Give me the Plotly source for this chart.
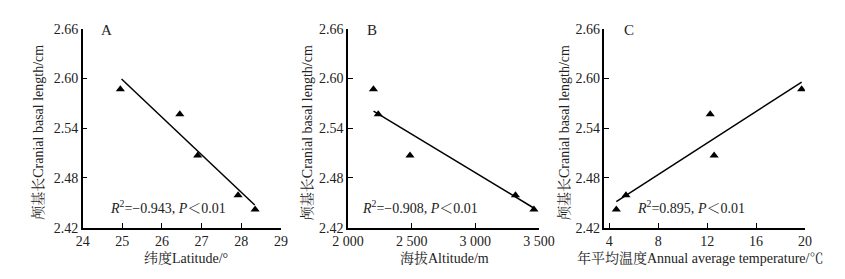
import plotly.graph_objects as go

# ---- data ----
latitude = [24.95, 26.45, 26.9, 27.92, 28.35]
altitude = [2200, 2238, 2487, 3315, 3460]
temperature = [19.73, 12.25, 12.57, 5.36, 4.57]
cranial_length = [2.587, 2.557, 2.507, 2.459, 2.442]

fit_lat_x = [24.98, 28.34]
fit_lat_y = [2.5994, 2.4474]
fit_alt_x = [2201, 3455]
fit_alt_y = [2.5606, 2.4440]
fit_temp_x = [4.57, 19.73]
fit_temp_y = [2.4513, 2.5957]

y_ticks = [2.42, 2.48, 2.54, 2.60, 2.66]
lat_ticks = [24, 25, 26, 27, 28, 29]
alt_ticks = [2000, 2500, 3000, 3500]
alt_ticktext = ["2 000", "2 500", "3 000", "3 500"]
temp_ticks = [4, 8, 12, 16, 20]

panel_labels = ["A", "B", "C"]
stat_texts = ["<i>R</i><sup>2</sup>=−0.943, <i>P</i>＜0.01",
              "<i>R</i><sup>2</sup>=−0.908, <i>P</i>＜0.01",
              "<i>R</i><sup>2</sup>=0.895, <i>P</i>＜0.01"]
x_titles = ["纬度Latitude/°", "海拔Altitude/m", "年平均温度Annual average temperature/℃"]
y_title = "颅基长Cranial basal length/cm"

FONT = "Times New Roman, Liberation Serif, Noto Serif CJK SC, Noto Sans CJK SC, serif"
W, H = 845, 279

fig = go.Figure()
xs = [latitude, altitude, temperature]
fits = [(fit_lat_x, fit_lat_y), (fit_alt_x, fit_alt_y), (fit_temp_x, fit_temp_y)]
for i in range(3):
    xa = "x" if i == 0 else f"x{i+1}"
    ya = "y" if i == 0 else f"y{i+1}"
    fig.add_trace(go.Scatter(x=fits[i][0], y=fits[i][1], mode="lines",
                             line=dict(color="black", width=1.5),
                             xaxis=xa, yaxis=ya, showlegend=False))
    fig.add_trace(go.Scatter(x=xs[i], y=cranial_length, mode="markers",
                             marker=dict(symbol="triangle-up", size=8, color="black"),
                             xaxis=xa, yaxis=ya, showlegend=False))

# pixel geometry
x_left = [61, 336.7, 603.3]
x_right = [267, 535.3, 811.7]
y_top, y_bot = 14.7, 224.7
ydom = [1 - y_bot / H, 1 - y_top / H]

x_ranges = [[24, 29], [2000, 3500], [3.6, 20]]
x_tickvals = [lat_ticks, alt_ticks, temp_ticks]
x_ticktexts = [[str(v) for v in lat_ticks], alt_ticktext, [str(v) for v in temp_ticks]]

axis_common = dict(showline=True, linecolor="black", linewidth=1.5, ticks="inside",
                   ticklen=5, tickwidth=1.2, tickcolor="black", showgrid=False,
                   zeroline=False, tickfont=dict(family=FONT, size=14, color="#222"))

layout = dict(width=W, height=H, margin=dict(l=0, r=0, t=0, b=0),
              paper_bgcolor="white", plot_bgcolor="white",
              font=dict(family=FONT, size=14, color="#222"))
annotations = []
for i in range(3):
    sx = "" if i == 0 else str(i + 1)
    layout[f"xaxis{sx}"] = dict(domain=[x_left[i] / W, x_right[i] / W], range=x_ranges[i],
                                tickvals=x_tickvals[i], ticktext=x_ticktexts[i],
                                anchor=f"y{sx}", **axis_common)
    layout[f"yaxis{sx}"] = dict(domain=ydom, range=[2.42, 2.66], tickvals=y_ticks,
                                ticktext=[f"{v:.2f}" for v in y_ticks],
                                anchor=f"x{sx}", **axis_common)
    # panel letter
    annotations.append(dict(text=panel_labels[i], xref="paper", yref="paper",
                            x=(x_left[i] + 25) / W, y=1 - 16 / H, showarrow=False,
                            xanchor="center", yanchor="middle",
                            font=dict(family=FONT, size=15, color="#222")))
    # stats
    annotations.append(dict(text=stat_texts[i], xref="paper", yref="paper",
                            x=(x_left[i] + [26, 13, 32][i]) / W, y=1 - 203 / H, showarrow=False,
                            xanchor="left", yanchor="middle",
                            font=dict(family=FONT, size=14, color="#222")))
    # x title
    annotations.append(dict(text=x_titles[i], xref="paper", yref="paper",
                            x=[168, 437, 703][i] / W, y=1 - 257 / H, showarrow=False,
                            xanchor="center", yanchor="middle",
                            font=dict(family=FONT, size=14, color="#222")))
    # y title
    annotations.append(dict(text=y_title, xref="paper", yref="paper",
                            x=[15, 295, 562][i] / W, y=1 - 124 / H, showarrow=False,
                            textangle=-90, xanchor="center", yanchor="middle",
                            font=dict(family=FONT, size=14, color="#222")))
layout["annotations"] = annotations
fig.update_layout(**layout)

fig.write_html("out.html")
